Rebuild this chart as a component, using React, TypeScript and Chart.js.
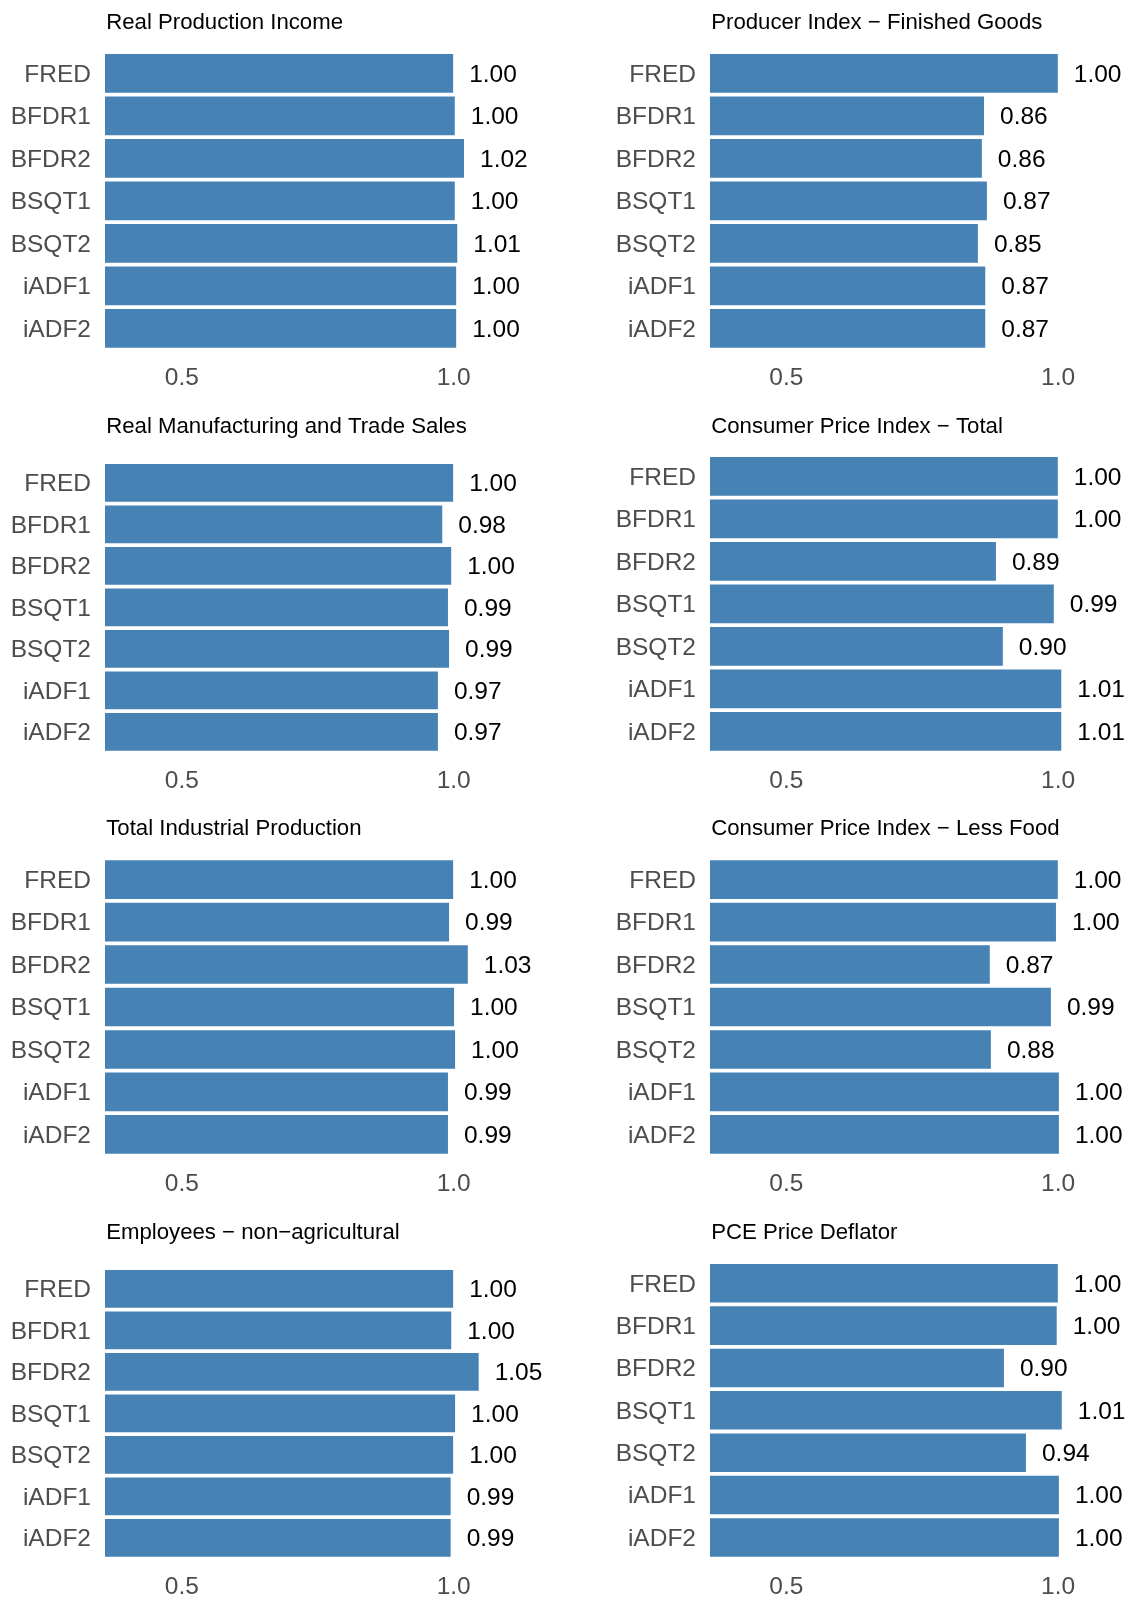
import React, { useEffect, useRef } from 'react';
import { Chart, registerables } from 'chart.js';

Chart.register(...registerables);

const FONT = '"Liberation Sans", Arial, Helvetica, sans-serif';

// ---- data ----
const methods = ['FRED', 'BFDR1', 'BFDR2', 'BSQT1', 'BSQT2', 'iADF1', 'iADF2'];
const xTickValues = [0.5, 1.0];

const titles = [
  'Real Production Income',
  'Producer Index \u2212 Finished Goods',
  'Real Manufacturing and Trade Sales',
  'Consumer Price Index \u2212 Total',
  'Total Industrial Production',
  'Consumer Price Index \u2212 Less Food',
  'Employees \u2212 non\u2212agricultural',
  'PCE Price Deflator',
];

const realProductionIncome = [0.999, 1.002, 1.019, 1.002, 1.0066, 1.0046, 1.0046];
const producerIndexFinished = [0.9994, 0.8637, 0.8597, 0.869, 0.8524, 0.866, 0.866];
const realManufacturingSales = [0.999, 0.979, 0.9954, 0.9895, 0.9915, 0.971, 0.971];
const cpiTotal = [0.9994, 0.9994, 0.8856, 0.992, 0.8983, 1.0058, 1.0058];
const totalIndustrialProduction = [0.999, 0.9915, 1.026, 1.0007, 1.0026, 0.9895, 0.9895];
const cpiLessFood = [0.9994, 0.996, 0.8743, 0.9867, 0.8763, 1.0014, 1.0014];
const employeesNonAg = [0.999, 0.9955, 1.046, 1.0026, 0.999, 0.9944, 0.9944];
const pceDeflator = [0.9994, 0.9974, 0.9003, 1.0067, 0.9408, 1.0014, 1.0014];

const seriesList = [
  realProductionIncome,
  producerIndexFinished,
  realManufacturingSales,
  cpiTotal,
  totalIndustrialProduction,
  cpiLessFood,
  employeesNonAg,
  pceDeflator,
];

// ---- layout (positions only) ----
const PX_PER_UNIT = 543.7;
const COLS = [
  { left: 0, canvasW: 600, xmin: 0.3587 },
  { left: 605, canvasW: 522, xmin: 0.3597 },
];
const PANELS = [
  { col: 0, areaTop: 52.1, areaH: 297.5, titleY: 21.7 },
  { col: 1, areaTop: 52.1, areaH: 297.5, titleY: 21.7 },
  { col: 0, areaTop: 462.1, areaH: 290.4, titleY: 425 },
  { col: 1, areaTop: 455.1, areaH: 297.5, titleY: 425 },
  { col: 0, areaTop: 858.4, areaH: 297.2, titleY: 827.3 },
  { col: 1, areaTop: 858.4, areaH: 297.2, titleY: 827.3 },
  { col: 0, areaTop: 1268.1, areaH: 290.4, titleY: 1231.7 },
  { col: 1, areaTop: 1262.1, areaH: 296.5, titleY: 1231.7 },
];
const Y_AXIS_W = 105;
const AREA_W = 410;
const X_AXIS_H = 50;
const TOP_SPACE = 50;
const TEXT_SHIFT = 1.6;

function Panel({ idx }: { idx: number }) {
  const ref = useRef<HTMLCanvasElement | null>(null);
  const p = PANELS[idx];
  const col = COLS[p.col];
  const canvasTop = Math.floor(p.areaTop) - TOP_SPACE;
  const padTop = p.areaTop - canvasTop;
  const canvasH = Math.ceil(padTop + p.areaH + X_AXIS_H);
  const xAxisH = canvasH - padTop - p.areaH;
  const titleOffset = p.areaTop - p.titleY;

  useEffect(() => {
    if (!ref.current) return;
    const labelPlugin = {
      id: 'panelText',
      afterDatasetsDraw(chart: any) {
        const ctx = chart.ctx;
        const area = chart.chartArea;
        ctx.save();
        ctx.fillStyle = '#000000';
        ctx.font = `22.2px ${FONT}`;
        ctx.textAlign = 'left';
        ctx.textBaseline = 'middle';
        ctx.fillText(titles[idx], area.left + 1.2, area.top - titleOffset + TEXT_SHIFT);
        ctx.font = `24.5px ${FONT}`;
        const meta = chart.getDatasetMeta(0);
        const data = chart.data.datasets[0].data as number[];
        meta.data.forEach((el: any, i: number) => {
          ctx.fillText(Number(data[i]).toFixed(2), el.x + 16, el.y + TEXT_SHIFT);
        });
        ctx.restore();
      },
    };
    const chart = new Chart(ref.current, {
      type: 'bar',
      data: {
        labels: methods,
        datasets: [
          {
            data: seriesList[idx],
            backgroundColor: '#4682B4',
            borderWidth: 0,
            barPercentage: 0.91,
            categoryPercentage: 1,
          },
        ],
      },
      options: {
        indexAxis: 'y',
        responsive: false,
        animation: false,
        devicePixelRatio: 1,
        layout: {
          padding: { top: padTop, bottom: 0, left: 0, right: col.canvasW - Y_AXIS_W - AREA_W },
        },
        plugins: {
          legend: { display: false },
          tooltip: { enabled: false },
          title: { display: false },
        },
        scales: {
          x: {
            type: 'linear',
            min: col.xmin,
            max: col.xmin + AREA_W / PX_PER_UNIT,
            grid: { display: false, drawTicks: false },
            border: { display: false },
            afterBuildTicks: (scale: any) => {
              scale.ticks = xTickValues.map((v) => ({ value: v }));
            },
            afterFit: (scale: any) => {
              scale.height = xAxisH;
            },
            ticks: {
              color: '#4D4D4D',
              font: { size: 24.5, family: FONT },
              padding: 14,
              maxRotation: 0,
              autoSkip: false,
              callback: (v: any) => Number(v).toFixed(1),
            },
          },
          y: {
            type: 'category',
            grid: { display: false, drawTicks: false },
            border: { display: false },
            afterFit: (scale: any) => {
              scale.width = Y_AXIS_W;
            },
            ticks: {
              color: '#4D4D4D',
              font: { size: 24.5, family: FONT },
              padding: 14,
              labelOffset: TEXT_SHIFT,
              autoSkip: false,
            },
          },
        },
      },
      plugins: [labelPlugin],
    } as any);
    return () => chart.destroy();
  }, [idx]);

  return (
    <canvas
      ref={ref}
      width={col.canvasW}
      height={canvasH}
      style={{
        position: 'absolute',
        left: col.left,
        top: canvasTop,
        width: col.canvasW,
        height: canvasH,
      }}
    />
  );
}

export default function App() {
  return (
    <div
      style={{
        position: 'absolute',
        left: 0,
        top: 0,
        width: 1127,
        height: 1601,
        background: '#ffffff',
        overflow: 'hidden',
      }}
    >
      {PANELS.map((_, i) => (
        <Panel key={i} idx={i} />
      ))}
    </div>
  );
}
